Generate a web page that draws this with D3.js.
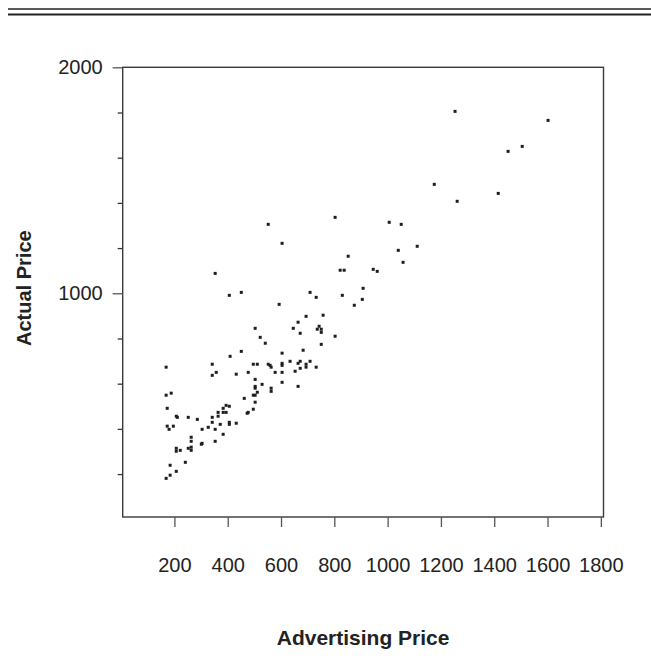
<!DOCTYPE html>
<html>
<head>
<meta charset="utf-8">
<script src="https://cdn.jsdelivr.net/npm/d3@7"></script>
<style>
  html, body { margin: 0; padding: 0; background: #fff; }
  svg { display: block; }
  text { font-family: "Liberation Sans", Arial, Helvetica, sans-serif; fill: #222; }
</style>
</head>
<body>
<svg id="chart" width="651" height="671"></svg>
<script>
// Advertised vs. actual sale price for each listing
const advertisingPrice = [
  541, 751, 683, 451, 604, 409, 634, 672, 664, 709,
  342, 496, 511, 552, 559, 563, 604, 604, 694, 694,
  672, 732, 169, 357, 342, 432, 477, 578, 604, 653,
  503, 604, 529, 503, 503, 563, 563, 664, 511, 496,
  503, 169, 188, 462, 503, 394, 406, 173, 383, 496,
  364, 383, 394, 477, 473, 207, 211, 252, 342, 364,
  286, 342, 406, 406, 432, 372, 173, 180, 196, 327,
  304, 353, 383, 263, 263, 353, 304, 301, 252, 263,
  263, 207, 207, 222, 241, 184, 207, 184, 169,
  803, 552, 604, 852, 822, 837, 353, 406, 451, 709,
  732, 830, 593, 694, 758, 664, 503, 646, 736, 743,
  751, 751, 672, 803, 522,
  1261, 1006, 1051, 1111, 1040, 1058, 946, 961, 908, 905, 875,
  1253, 1602, 1505, 1452, 1175, 1415
];
const actualPrice = [
  779, 774, 748, 743, 735, 721, 699, 699, 690, 699,
  686, 686, 686, 686, 681, 673, 690, 681, 686, 673,
  668, 673, 673, 650, 637, 642, 650, 650, 650, 655,
  619, 606, 597, 588, 580, 580, 566, 588, 562, 549,
  549, 549, 558, 535, 518, 504, 500, 491, 491, 487,
  473, 473, 473, 473, 469, 456, 451, 451, 451, 456,
  442, 429, 429, 420, 425, 420, 412, 398, 412, 407,
  398, 398, 376, 363, 345, 345, 336, 332, 314, 319,
  305, 314, 301, 305, 252, 239, 212, 195, 181,
  1336, 1305, 1221, 1164, 1102, 1102, 1088, 991, 1004, 1004,
  982, 991, 951, 898, 903, 872, 845, 845, 841, 854,
  841, 827, 823, 810, 805,
  1407, 1314, 1305, 1208, 1190, 1137, 1106, 1097, 1022, 973, 947,
  1805, 1765, 1650, 1628, 1482, 1442
];
const xTickValues = [200, 400, 600, 800, 1000, 1200, 1400, 1600, 1800];
const yMajorTicks = [1000, 2000];
const yMinorTicks = [200, 400, 600, 800, 1200, 1400, 1600, 1800];
const xTitle = "Advertising Price";
const yTitle = "Actual Price";

const points = advertisingPrice.map((x, i) => ({ x, y: actualPrice[i] }));

const svg = d3.select("#chart");
const W = 651, H = 671;
const plot = { left: 122.7, right: 603.5, top: 67.3, bottom: 517 };

const x = d3.scaleLinear().domain([6, 1810]).range([plot.left, plot.right]);
const y = d3.scaleLinear().domain([10, 2000]).range([plot.bottom, plot.top]);

// double rule across the top of the page
svg.append("line").attr("x1", 8).attr("x2", W).attr("y1", 9).attr("y2", 9)
  .attr("stroke", "#222").attr("stroke-width", 1.6);
svg.append("line").attr("x1", 8).attr("x2", W).attr("y1", 14.5).attr("y2", 14.5)
  .attr("stroke", "#222").attr("stroke-width", 2.2);

// plotting frame
svg.append("rect")
  .attr("x", plot.left).attr("y", plot.top)
  .attr("width", plot.right - plot.left).attr("height", plot.bottom - plot.top)
  .attr("fill", "none").attr("stroke", "#3a3a3a").attr("stroke-width", 1.4);

// x axis: ticks below the frame, labels set well below the ticks
const xAxis = svg.append("g")
  .attr("transform", `translate(0,${plot.bottom})`)
  .call(d3.axisBottom(x).tickValues(xTickValues).tickSize(10).tickPadding(31)
    .tickFormat(d3.format("d")));
xAxis.select(".domain").remove();
xAxis.selectAll(".tick line").attr("stroke", "#555").attr("stroke-width", 1.3);
xAxis.selectAll(".tick text").style("font-size", "20px").attr("fill", "#222");

// y axis: labelled major ticks plus shorter unlabelled minor ticks
const yAxis = svg.append("g")
  .attr("transform", `translate(${plot.left},0)`)
  .call(d3.axisLeft(y).tickValues(yMajorTicks).tickSize(10).tickPadding(10)
    .tickFormat(d3.format("d")));
yAxis.select(".domain").remove();
yAxis.selectAll(".tick line").attr("stroke", "#555").attr("stroke-width", 1.3);
yAxis.selectAll(".tick text").style("font-size", "20px").attr("fill", "#222");

const yMinor = svg.append("g")
  .attr("transform", `translate(${plot.left},0)`)
  .call(d3.axisLeft(y).tickValues(yMinorTicks).tickSize(5).tickFormat(""));
yMinor.select(".domain").remove();
yMinor.selectAll(".tick line").attr("stroke", "#333").attr("stroke-width", 1.3);

// points
const s = 3;
svg.append("g").selectAll("rect")
  .data(points)
  .join("rect")
  .attr("x", d => x(d.x) - s / 2)
  .attr("y", d => y(d.y) - s / 2)
  .attr("width", s).attr("height", s)
  .attr("fill", "#1e1e1e");

// axis titles
svg.append("text")
  .attr("x", (plot.left + plot.right) / 2).attr("y", 645)
  .attr("text-anchor", "middle")
  .style("font-size", "21px").style("font-weight", "bold")
  .text(xTitle);

svg.append("text")
  .attr("transform", `translate(31,${(plot.top + plot.bottom) / 2 - 4}) rotate(-90)`)
  .attr("text-anchor", "middle")
  .style("font-size", "20px").style("font-weight", "bold")
  .text(yTitle);
</script>
</body>
</html>
